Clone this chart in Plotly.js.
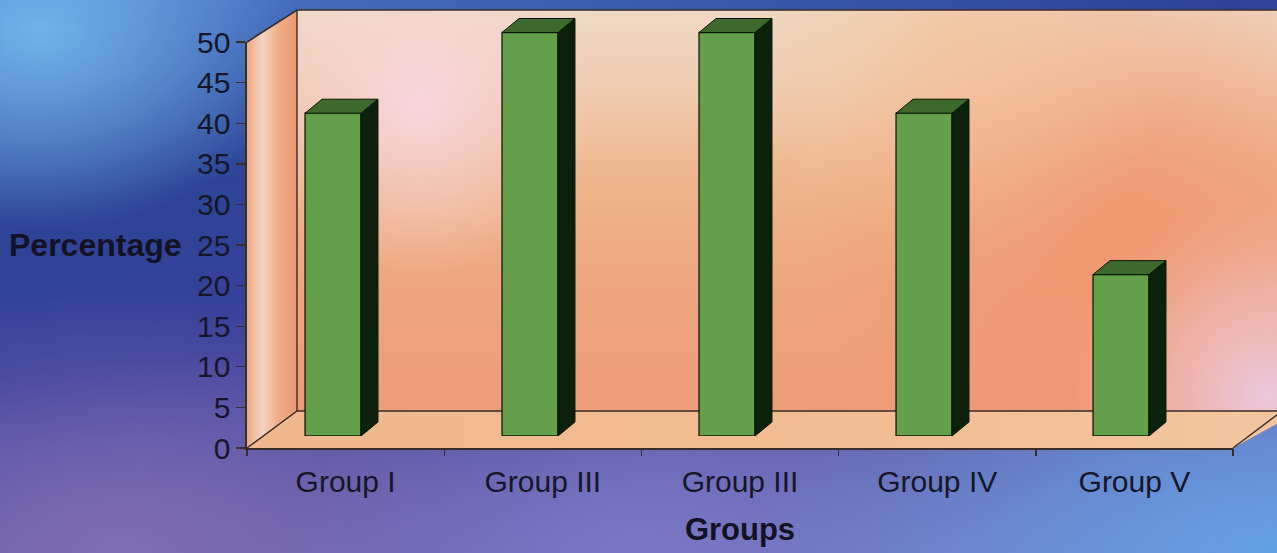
<!DOCTYPE html>
<html>
<head>
<meta charset="utf-8">
<script src="https://cdn.plot.ly/plotly-3.0.1.min.js"></script>
<style>
  html, body { margin: 0; padding: 0; width: 1277px; height: 553px; overflow: hidden; }
  body {
    background:
      radial-gradient(ellipse 260px 200px at 40px 30px, rgba(112,178,232,1) 0%, rgba(112,178,232,0) 100%),
      radial-gradient(ellipse 520px 260px at 1277px 553px, rgba(98,160,228,1) 0%, rgba(98,160,228,0) 100%),
      radial-gradient(ellipse 420px 260px at 120px 553px, rgba(128,108,178,1) 0%, rgba(128,108,178,0) 100%),
      radial-gradient(ellipse 360px 200px at 640px 553px, rgba(120,120,196,1) 0%, rgba(120,120,196,0) 100%),
      linear-gradient(170deg, #4a78c8 0%, #2d4496 28%, #38409a 50%, #5e5aa8 72%, #7a7ec4 100%);
  }
  #chart { width: 1277px; height: 553px; }
</style>
</head>
<body>
<div id="chart"></div>
<script>
// ---- data ----
const categories = ['Group I', 'Group III', 'Group III', 'Group IV', 'Group V'];
const percentages = [40, 50, 50, 40, 20];
const yTicks = [0, 5, 10, 15, 20, 25, 30, 35, 40, 45, 50];
const xTitle = 'Groups';
const yTitle = 'Percentage';

// ---- layout geometry (pixels) ----
const W = 1277, H = 553;
const front = { x0: 247, x1: 1233, yb: 448, yt: 42 };
const back = { x0: 297, yt: 10, yb: 411, x1: 1300 };
const barPlane = { x0: 234.5, step: 197, yb: 436, ppu: 8.07, yMax: 53.5, xMaxExtra: 0.1 };
const barDepthPx = { dx: 17, dy: -14 };
const barWidth = 0.284;

const px = v => v / W;
const py = v => 1 - v / H;

// walls drawn as an svg image
const bwRect = `x="${back.x0}" y="${back.yt}" width="${back.x1 - back.x0}" height="${back.yb - back.yt}"`;
const wallsSvg = `
<svg xmlns="http://www.w3.org/2000/svg" width="${W}" height="${H}" viewBox="0 0 ${W} ${H}">
<defs>
  <linearGradient id="bw" x1="0" y1="0" x2="0" y2="1">
    <stop offset="0" stop-color="#efd9c3"/>
    <stop offset="0.18" stop-color="#f0cdb2"/>
    <stop offset="0.42" stop-color="#eeb68c"/>
    <stop offset="0.72" stop-color="#eea47c"/>
    <stop offset="1" stop-color="#ee9c78"/>
  </linearGradient>
  <radialGradient id="pinkL" cx="420" cy="105" r="170" gradientUnits="userSpaceOnUse">
    <stop offset="0" stop-color="#f7d6de" stop-opacity="0.95"/>
    <stop offset="1" stop-color="#f7d6de" stop-opacity="0"/>
  </radialGradient>
  <radialGradient id="red" cx="1130" cy="230" r="320" gradientUnits="userSpaceOnUse">
    <stop offset="0" stop-color="#ef9068" stop-opacity="0.75"/>
    <stop offset="1" stop-color="#ef9068" stop-opacity="0"/>
  </radialGradient>
  <radialGradient id="peach" cx="960" cy="40" r="220" gradientUnits="userSpaceOnUse">
    <stop offset="0" stop-color="#f3c49a" stop-opacity="0.7"/>
    <stop offset="1" stop-color="#f3c49a" stop-opacity="0"/>
  </radialGradient>
  <radialGradient id="pink" cx="1268" cy="395" r="200" gradientUnits="userSpaceOnUse">
    <stop offset="0" stop-color="#ebc8de" stop-opacity="1"/>
    <stop offset="0.5" stop-color="#eec0c4" stop-opacity="0.6"/>
    <stop offset="1" stop-color="#f0b8a8" stop-opacity="0"/>
  </radialGradient>
  <linearGradient id="lw" x1="0" y1="0" x2="1" y2="0">
    <stop offset="0" stop-color="#eda880"/>
    <stop offset="0.32" stop-color="#f6d4c6"/>
    <stop offset="0.62" stop-color="#efae86"/>
    <stop offset="1" stop-color="#ea9a72"/>
  </linearGradient>
  <linearGradient id="fl" x1="0" y1="0" x2="1" y2="0">
    <stop offset="0" stop-color="#f0b88c"/>
    <stop offset="0.6" stop-color="#f2bd92"/>
    <stop offset="1" stop-color="#f3c6a0"/>
  </linearGradient>
</defs>
<rect ${bwRect} fill="url(#bw)"/>
<rect ${bwRect} fill="url(#red)"/>
<rect ${bwRect} fill="url(#peach)"/>
<rect ${bwRect} fill="url(#pinkL)"/>
<rect ${bwRect} fill="url(#pink)"/>
<polygon points="${front.x0},${front.yt} ${back.x0},${back.yt} ${back.x0},${back.yb} ${front.x0},${front.yb}" fill="url(#lw)"/>
<polygon points="${front.x0},${front.yb} ${back.x0},${back.yb} ${back.x1},${back.yb} ${front.x1},${front.yb}" fill="url(#fl)"/>
<polyline points="${front.x0},${front.yt} ${back.x0},${back.yt} ${back.x1},${back.yt}" fill="none" stroke="#3a2c28" stroke-width="1.6"/>
<line x1="${back.x0}" y1="${back.yt}" x2="${back.x0}" y2="${back.yb}" stroke="#3a2c28" stroke-width="1.4"/>
<polyline points="${front.x0},${front.yb} ${back.x0},${back.yb} ${back.x1},${back.yb}" fill="none" stroke="#3a2c28" stroke-width="1.4"/>
<line x1="${front.x1}" y1="${front.yb}" x2="${front.x1 + 49}" y2="${back.yb}" stroke="#3a2c28" stroke-width="1.4"/>
</svg>`;

// bar 3d faces from data
const ddx = barDepthPx.dx / barPlane.step;
const ddy = -barDepthPx.dy / barPlane.ppu;
const faceShapes = [];
percentages.forEach((v, i) => {
  const xl = i - barWidth / 2, xr = i + barWidth / 2;
  faceShapes.push({
    type: 'path', xref: 'x2', yref: 'y2', layer: 'above',
    path: `M${xr},0 L${xr + ddx},${ddy} L${xr + ddx},${v + ddy} L${xr},${v} Z`,
    fillcolor: '#0d200b', line: { color: '#0a1508', width: 1 }
  });
  faceShapes.push({
    type: 'path', xref: 'x2', yref: 'y2', layer: 'above',
    path: `M${xl},${v} L${xl + ddx},${v + ddy} L${xr + ddx},${v + ddy} L${xr},${v} Z`,
    fillcolor: '#3d6a2c', line: { color: '#0a1508', width: 1 }
  });
});

const fam = 'Liberation Sans, Arial, sans-serif';
const xTickFont = { family: fam, size: 30, color: '#161628' };
const yTickFont = { family: fam, size: 30, color: '#161628' };
const xTitleFont = { family: fam, size: 31, color: '#121224', weight: 'bold' };
const yTitleFont = { family: fam, size: 32, color: '#121224', weight: 'bold' };
const boundaryTicks = categories.map((c, i) => i - 0.5).concat([categories.length - 0.5]);

const traces = [
  { type: 'scatter', x: [], y: [], xaxis: 'x', yaxis: 'y', hoverinfo: 'skip', showlegend: false },
  { type: 'scatter', x: [], y: [], xaxis: 'x4', yaxis: 'y', hoverinfo: 'skip', showlegend: false },
  {
    type: 'bar', x: categories.map((c, i) => i), y: percentages, width: barWidth,
    xaxis: 'x2', yaxis: 'y2', hoverinfo: 'skip', showlegend: false,
    marker: { color: '#63a049', line: { color: '#0f1c0c', width: 1.3 } }
  }
];

const layout = {
  width: W, height: H,
  margin: { l: 0, r: 0, t: 0, b: 0 },
  paper_bgcolor: 'rgba(0,0,0,0)',
  plot_bgcolor: 'rgba(0,0,0,0)',
  showlegend: false,
  images: [{
    source: 'data:image/svg+xml;charset=utf-8,' + encodeURIComponent(wallsSvg),
    xref: 'paper', yref: 'paper', x: 0, y: 1, sizex: 1, sizey: 1,
    xanchor: 'left', yanchor: 'top', sizing: 'stretch', layer: 'below'
  }],
  xaxis: {
    domain: [px(front.x0), px(front.x1)], anchor: 'y',
    range: [-0.5, categories.length - 0.5],
    tickmode: 'array', tickvals: categories.map((c, i) => i), ticktext: categories,
    ticks: '', showgrid: false, zeroline: false,
    showline: true, linecolor: '#3a2c28', linewidth: 1.6,
    tickfont: xTickFont, ticklabelstandoff: 6, fixedrange: true,
    title: { text: xTitle, font: xTitleFont, standoff: 22 }
  },
  xaxis4: {
    overlaying: 'x', anchor: 'y',
    range: [-0.5, categories.length - 0.5],
    tickmode: 'array', tickvals: boundaryTicks,
    ticks: 'outside', ticklen: 7, tickwidth: 1.4, tickcolor: '#3a2c28',
    showticklabels: false, showgrid: false, zeroline: false, showline: false, fixedrange: true
  },
  yaxis: {
    domain: [py(front.yb), py(front.yt)], anchor: 'x',
    range: [0, 50],
    tickmode: 'array', tickvals: yTicks,
    ticks: 'outside', ticklen: 9, tickwidth: 1.4, tickcolor: '#3a2c28',
    showgrid: false, zeroline: false,
    showline: true, linecolor: '#3a2c28', linewidth: 1.6,
    tickfont: yTickFont, fixedrange: true
  },
  xaxis2: {
    domain: [px(barPlane.x0), px(barPlane.x0 + barPlane.step * (categories.length + barPlane.xMaxExtra))],
    anchor: 'y2', range: [-0.5, categories.length - 0.5 + barPlane.xMaxExtra],
    visible: false, fixedrange: true
  },
  yaxis2: {
    domain: [py(barPlane.yb), py(barPlane.yb - barPlane.ppu * barPlane.yMax)],
    anchor: 'x2', range: [0, barPlane.yMax],
    visible: false, fixedrange: true
  },
  shapes: faceShapes,
  annotations: [{
    text: yTitle, xref: 'paper', yref: 'paper',
    x: px(184), y: py(245), xanchor: 'right', yanchor: 'middle',
    showarrow: false, font: yTitleFont
  }]
};

Plotly.newPlot('chart', traces, layout, { displayModeBar: false, staticPlot: true });
</script>
</body>
</html>
